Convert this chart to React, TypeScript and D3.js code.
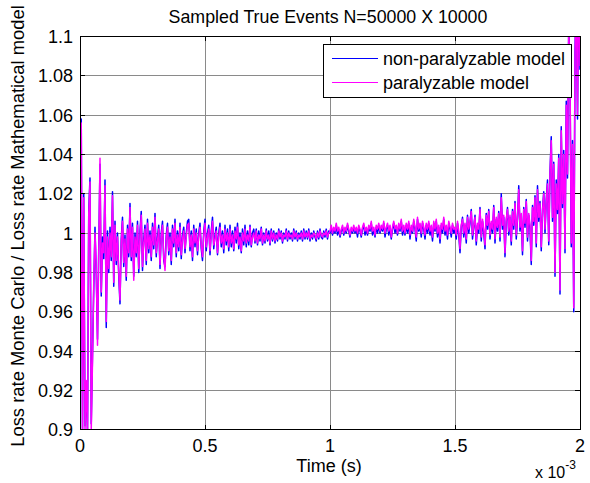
import React from 'react';
import * as d3 from 'd3';

// sample grid: 401 samples from 0 to 2e-3 s
const sampleStep = 5e-6;
const time: number[] = d3.range(401).map((i) => i * sampleStep);

// paralyzable model (magenta)
const paralyzable: number[] = [
  0.905,1.056,0.898,1.018,0.900,0.925,0.898,1.010,1.026,0.900,0.935,0.975,1.000,0.982,0.943,0.990,1.038,0.970,0.995,0.990,
  1.024,0.955,0.998,0.982,1.000,0.988,1.019,0.975,1.004,0.986,0.998,0.980,0.966,0.995,1.006,0.985,0.997,0.978,1.002,0.990,
  1.013,0.988,1.003,0.976,0.998,0.990,1.004,0.982,0.999,1.009,0.983,0.995,1.002,0.986,1.005,0.992,0.999,0.988,1.003,0.994,
  1.008,0.990,0.996,1.002,0.984,0.998,1.004,0.988,0.981,0.997,1.003,0.991,0.998,0.986,1.002,0.995,1.005,0.990,0.999,0.993,
  1.003,0.989,0.997,1.001,0.992,0.998,1.004,1.005,0.993,0.999,0.988,1.002,0.995,1.000,0.991,0.998,1.003,0.994,0.988,0.999,
  1.005,0.993,0.998,1.002,0.991,0.999,1.006,0.994,0.997,1.001,0.990,0.998,1.003,0.995,0.999,0.992,1.002,0.996,1.000,0.993,
  1.002,0.995,0.999,0.992,1.001,0.997,1.003,0.994,0.998,0.991,1.000,0.996,1.002,0.995,0.999,0.996,1.003,0.994,0.998,1.000,
  0.996,1.001,0.995,0.999,0.997,1.002,0.995,0.999,0.996,1.001,0.997,0.999,0.995,1.001,0.997,1.000,0.996,0.999,0.997,1.001,
  0.998,1.000,0.996,0.999,0.998,1.001,0.997,1.000,0.998,0.999,0.997,1.001,0.998,1.000,0.997,0.999,0.998,1.000,0.997,1.001,
  0.998,1.000,0.998,1.001,0.997,0.999,0.998,1.000,0.999,0.997,1.000,0.998,1.001,0.999,0.998,1.000,0.999,1.001,0.998,1.000,
  1.001,1.004,1.000,1.003,1.001,1.005,1.001,1.003,0.999,1.002,1.004,1.000,1.003,1.001,1.005,1.002,0.999,1.003,1.001,1.004,
  1.001,1.003,1.000,1.004,1.002,0.999,1.003,1.005,1.001,1.003,1.000,1.004,1.002,1.006,1.001,1.003,0.999,1.004,1.002,1.005,
  1.001,1.004,1.002,1.006,1.000,1.003,1.005,1.001,1.004,0.998,1.003,1.006,1.002,1.004,1.000,1.005,1.002,1.007,1.001,1.004,
  1.000,1.005,1.002,1.006,0.999,1.004,1.001,1.007,1.003,0.998,1.008,1.002,1.005,1.000,1.006,1.003,0.999,1.005,1.002,1.006,
  1.001,1.004,0.998,1.006,1.002,1.007,1.000,1.004,0.997,1.005,1.002,1.008,1.001,1.004,0.999,1.006,1.003,1.000,1.005,1.002,
  1.003,0.999,1.006,1.001,0.992,1.004,1.007,1.000,1.005,0.997,1.008,1.002,1.006,1.011,0.999,1.004,1.008,0.996,1.005,1.002,
  1.012,0.998,1.007,1.002,0.994,1.009,1.004,1.011,0.999,1.006,1.002,1.013,0.997,1.008,1.003,1.010,0.998,1.018,1.004,1.009,
  0.990,1.007,1.012,1.001,1.009,0.996,1.011,1.004,1.015,0.999,1.008,1.022,1.003,1.010,0.991,1.012,1.005,1.016,0.998,1.010,
  1.004,0.986,1.013,1.006,1.018,0.995,1.022,1.008,1.015,0.993,1.011,1.020,1.002,1.016,1.025,0.996,1.030,1.047,1.008,1.035,
  0.980,1.025,1.012,1.038,0.971,1.052,1.015,1.040,0.992,1.065,1.030,1.105,1.080,0.995,1.045,0.962,1.090,1.120,1.060,1.130,1.085,
];

// non-paralyzable model (blue)
const nonParalyzable: number[] = [
  0.908,1.058,0.896,1.020,0.902,0.921,0.899,1.012,1.028,0.903,0.938,0.972,1.003,0.979,0.946,0.993,1.035,0.968,0.998,0.987,
  1.027,0.952,1.001,0.980,1.003,0.986,1.021,0.973,1.006,0.984,1.000,0.978,0.964,0.997,1.008,0.983,0.999,0.976,1.004,0.988,
  1.015,0.986,1.005,0.978,1.000,0.988,1.006,0.980,1.001,1.011,0.981,0.997,1.004,0.984,1.007,0.990,1.001,0.986,1.005,0.992,
  1.010,0.988,0.998,1.004,0.982,1.000,1.006,0.986,0.983,0.999,1.005,0.989,1.000,0.984,1.004,0.993,1.007,0.988,1.001,0.991,
  1.005,0.987,0.999,1.003,0.990,1.000,1.006,1.007,0.991,1.001,0.986,1.004,0.993,1.002,0.989,1.000,1.005,0.992,0.986,1.001,
  1.007,0.991,1.000,1.004,0.989,1.001,1.008,0.992,0.999,1.003,0.989,1.000,1.005,0.993,1.001,0.990,1.004,0.994,1.002,0.991,
  1.004,0.993,1.001,0.991,1.003,0.995,1.005,0.992,1.000,0.990,1.002,0.994,1.004,0.993,1.001,0.994,1.004,0.993,1.000,1.002,
  0.995,1.002,0.994,1.001,0.996,1.003,0.994,1.000,0.995,1.002,0.996,1.001,0.994,1.002,0.996,1.001,0.995,1.000,0.996,1.002,
  0.997,1.001,0.995,1.000,0.997,1.002,0.996,1.001,0.997,1.000,0.996,1.002,0.997,1.001,0.996,1.000,0.997,1.001,0.996,1.002,
  0.997,1.001,0.997,1.002,0.996,1.000,0.997,1.001,0.998,0.996,1.001,0.997,1.002,0.998,0.997,1.001,0.998,1.002,0.997,1.001,
  1.000,1.003,0.999,1.002,1.000,1.004,0.999,1.002,0.998,1.001,1.003,0.999,1.002,1.000,1.004,1.001,0.998,1.002,1.000,1.003,
  1.000,1.002,0.998,1.003,1.001,0.998,1.002,1.004,0.999,1.002,0.999,1.003,1.001,1.005,0.999,1.002,0.998,1.003,1.000,1.004,
  1.000,1.003,1.001,1.005,0.998,1.002,1.004,0.999,1.003,0.997,1.002,1.005,1.000,1.003,0.999,1.004,1.001,1.006,0.999,1.003,
  0.999,1.004,1.000,1.005,0.997,1.003,1.000,1.006,1.002,0.996,1.007,1.001,1.004,0.998,1.005,1.002,0.997,1.004,1.000,1.005,
  0.999,1.003,0.996,1.005,1.001,1.006,0.998,1.003,0.995,1.004,1.000,1.007,0.999,1.003,0.997,1.005,1.002,0.998,1.004,1.000,
  1.002,0.997,1.005,0.999,0.990,1.003,1.008,0.998,1.004,0.995,1.009,1.000,1.005,1.012,0.997,1.003,1.009,0.994,1.004,1.000,
  1.013,0.996,1.006,1.000,0.992,1.010,1.002,1.012,0.997,1.005,1.000,1.014,0.995,1.007,1.001,1.011,0.996,1.020,1.002,1.008,
  0.988,1.006,1.013,0.999,1.008,0.994,1.012,1.002,1.016,0.997,1.007,1.024,1.001,1.009,0.989,1.013,1.003,1.017,0.996,1.009,
  1.002,0.984,1.014,1.004,1.019,0.993,1.024,1.006,1.016,0.991,1.012,1.021,1.000,1.017,1.027,0.994,1.031,1.049,1.006,1.036,
  0.978,1.027,1.010,1.040,0.969,1.054,1.013,1.042,0.990,1.067,1.028,1.108,1.078,0.993,1.047,0.960,1.092,1.123,1.058,1.133,1.083,
];

const xTickValues = [0, 0.0005, 0.001, 0.0015, 0.002];
const xTickLabels = ['0', '0.5', '1', '1.5', '2'];
const yTickValues = [0.9, 0.92, 0.94, 0.96, 0.98, 1.0, 1.02, 1.04, 1.06, 1.08, 1.1];
const yTickLabels = ['0.9', '0.92', '0.94', '0.96', '0.98', '1', '1.02', '1.04', '1.06', '1.08', '1.1'];
const seriesNames = ['non-paralyzable model', 'paralyzable model'];
const seriesColors = ['#0000ff', '#ff00ff'];

const W = 590;
const H = 483;
const AX = { left: 80, right: 580, top: 36.4, bottom: 429.7 };
const FONT = '"Liberation Sans", Arial, Helvetica, sans-serif';

export default function App() {
  const x = d3.scaleLinear().domain([0, 0.002]).range([AX.left, AX.right]);
  const y = d3.scaleLinear().domain([0.9, 1.1]).range([AX.bottom, AX.top]);
  const line = d3
    .line<number>()
    .x((_, i) => x(time[i]))
    .y((d) => y(d));
  const series = [nonParalyzable, paralyzable];
  const tick = 5;
  const gridColor = '#8a8a8a';

  return (
    <svg
      width={W}
      height={H}
      style={{ position: 'absolute', left: 0, top: 0, background: '#fff' }}
      fontFamily={FONT}
    >
      <defs>
        <clipPath id="plotclip">
          <rect x={AX.left} y={AX.top} width={AX.right - AX.left} height={AX.bottom - AX.top} />
        </clipPath>
      </defs>
      <rect x={0} y={0} width={W} height={H} fill="#fff" />
      {/* grid */}
      <g shapeRendering="crispEdges">
        {xTickValues.slice(1, -1).map((v) => (
          <line key={'gx' + v} x1={x(v)} x2={x(v)} y1={AX.top} y2={AX.bottom} stroke={gridColor} strokeWidth={1} />
        ))}
        {yTickValues.slice(1, -1).map((v) => (
          <line key={'gy' + v} x1={AX.left} x2={AX.right} y1={y(v)} y2={y(v)} stroke={gridColor} strokeWidth={1} />
        ))}
      </g>
      {/* data */}
      <g clipPath="url(#plotclip)">
        {series.map((s, k) => (
          <path key={k} d={line(s) || ''} fill="none" stroke={seriesColors[k]} strokeWidth={1.5} strokeLinejoin="round" />
        ))}
      </g>
      {/* box + ticks */}
      <g shapeRendering="crispEdges" stroke="#000">
        <rect x={AX.left} y={AX.top} width={AX.right - AX.left} height={AX.bottom - AX.top} fill="none" strokeWidth={1} />
        {xTickValues.map((v) => (
          <g key={'tx' + v}>
            <line x1={x(v)} x2={x(v)} y1={AX.bottom} y2={AX.bottom - tick} />
            <line x1={x(v)} x2={x(v)} y1={AX.top} y2={AX.top + tick} />
          </g>
        ))}
        {yTickValues.map((v) => (
          <g key={'ty' + v}>
            <line x1={AX.left} x2={AX.left + tick} y1={y(v)} y2={y(v)} />
            <line x1={AX.right} x2={AX.right - tick} y1={y(v)} y2={y(v)} />
          </g>
        ))}
      </g>
      {/* tick labels */}
      <g fontSize={18} fill="#000">
        {xTickValues.map((v, i) => (
          <text key={'lx' + v} x={x(v)} y={AX.bottom + 22} textAnchor="middle">
            {xTickLabels[i]}
          </text>
        ))}
        {yTickValues.map((v, i) => (
          <text key={'ly' + v} x={AX.left - 7} y={y(v) + 6.5} textAnchor="end">
            {yTickLabels[i]}
          </text>
        ))}
      </g>
      {/* exponent */}
      <text x={535} y={478} fontSize={16} fill="#000">
        x 10
        <tspan dy={-9} fontSize={12}>-3</tspan>
      </text>
      {/* axis labels */}
      <text x={329} y={472} fontSize={18} textAnchor="middle" fill="#000">
        Time (s)
      </text>
      <text
        transform={`translate(24,${226}) rotate(-90)`}
        fontSize={18.4}
        textAnchor="middle"
        fill="#000"
      >
        Loss rate Monte Carlo / Loss rate Mathematical model
      </text>
      <text x={328} y={23} fontSize={17.8} textAnchor="middle" fill="#000">
        Sampled True Events N=50000 X 10000
      </text>
      {/* legend */}
      <g>
        <rect x={323} y={44} width={248} height={53} fill="#fff" stroke="#000" strokeWidth={1} shapeRendering="crispEdges" />
        {seriesNames.map((n, i) => (
          <g key={n}>
            <line x1={332} x2={378} y1={58.5 + i * 24} y2={58.5 + i * 24} stroke={seriesColors[i]} strokeWidth={1.2} />
            <text x={383} y={64.5 + i * 24} fontSize={18} fill="#000">
              {n}
            </text>
          </g>
        ))}
      </g>
    </svg>
  );
}
